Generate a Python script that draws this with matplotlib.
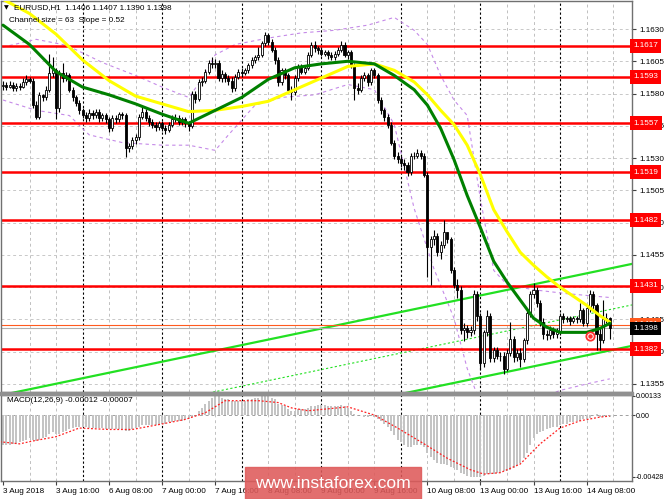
import matplotlib
matplotlib.use("Agg")
import matplotlib.pyplot as plt
from matplotlib.patches import Rectangle
import numpy as np

plt.rcParams['font.family'] = ['Liberation Sans', 'DejaVu Sans']

# EURUSD H1, 3 Aug 2018 00:00 .. 14 Aug 15:00, one row = 8 bars
opens = [1.1586, 1.1587, 1.1585, 1.1587, 1.1584, 1.1586, 1.1585, 1.1589,
         1.1591, 1.1590, 1.1571, 1.1562, 1.1579, 1.1577, 1.1583, 1.1596,
         1.1598, 1.1569, 1.1596, 1.1592, 1.1594, 1.1583, 1.1577, 1.1573,
         1.1567, 1.1563, 1.1561, 1.1565, 1.1563, 1.1566, 1.1561, 1.1563,
         1.1560, 1.1553, 1.1561, 1.1560, 1.1564, 1.1563, 1.1538, 1.1539,
         1.1544, 1.1546, 1.1562, 1.1566, 1.1561, 1.1558, 1.1556, 1.1554,
         1.1557, 1.1553, 1.1552, 1.1556, 1.1560, 1.1561, 1.1558, 1.1560,
         1.1557, 1.1555, 1.1580, 1.1576, 1.1589, 1.1590, 1.1597, 1.1604,
         1.1603, 1.1604, 1.1592, 1.1595, 1.1592, 1.1590, 1.1584, 1.1593,
         1.1597, 1.1596, 1.1598, 1.1602, 1.1606, 1.1608, 1.1610, 1.1619,
         1.1625, 1.1620, 1.1614, 1.1606, 1.1589, 1.1598, 1.1594, 1.1583,
         1.1581, 1.1592, 1.1601, 1.1597, 1.1600, 1.1610, 1.1618, 1.1615,
         1.1614, 1.1611, 1.1612, 1.1610, 1.1608, 1.1611, 1.1614, 1.1618,
         1.1610, 1.1612, 1.1602, 1.1584, 1.1583, 1.1592, 1.1594, 1.1589,
         1.1598, 1.1594, 1.1575, 1.1567, 1.1562, 1.1556, 1.1542, 1.1532,
         1.1529, 1.1526, 1.1525, 1.1519, 1.1532, 1.1532, 1.1534, 1.1532,
         1.1517, 1.1461, 1.1467, 1.1470, 1.1457, 1.1463, 1.1473, 1.1467,
         1.1443, 1.1432, 1.1428, 1.1397, 1.1398, 1.1395, 1.1397, 1.1425,
         1.1408, 1.1371, 1.1395, 1.1408, 1.1375, 1.1381, 1.1377, 1.1377,
         1.1367, 1.1379, 1.1390, 1.1376, 1.1379, 1.1374, 1.1389, 1.1410,
         1.1425, 1.1428, 1.1418, 1.1403, 1.1394, 1.1393, 1.1397, 1.1394,
         1.1395, 1.1408, 1.1405, 1.1406, 1.1404, 1.1406, 1.1405, 1.1412,
         1.1402, 1.1414, 1.1425, 1.1416, 1.1394, 1.1389, 1.1405, 1.1406]
highs = [1.1590, 1.1589, 1.1590, 1.1589, 1.1588, 1.1588, 1.1592, 1.1594,
         1.1593, 1.1592, 1.1574, 1.1581, 1.1580, 1.1586, 1.1611, 1.1608,
         1.1600, 1.1598, 1.1604, 1.1597, 1.1596, 1.1585, 1.1579, 1.1575,
         1.1569, 1.1566, 1.1568, 1.1567, 1.1568, 1.1568, 1.1565, 1.1565,
         1.1562, 1.1563, 1.1563, 1.1566, 1.1566, 1.1565, 1.1542, 1.1546,
         1.1549, 1.1564, 1.1570, 1.1568, 1.1563, 1.1560, 1.1558, 1.1559,
         1.1559, 1.1556, 1.1558, 1.1563, 1.1564, 1.1563, 1.1562, 1.1562,
         1.1559, 1.1582, 1.1582, 1.1591, 1.1593, 1.1599, 1.1606, 1.1608,
         1.1607, 1.1606, 1.1598, 1.1597, 1.1594, 1.1593, 1.1595, 1.1599,
         1.1600, 1.1600, 1.1604, 1.1608, 1.1610, 1.1616, 1.1621, 1.1628,
         1.1627, 1.1622, 1.1616, 1.1608, 1.1600, 1.1600, 1.1596, 1.1586,
         1.1594, 1.1603, 1.1603, 1.1602, 1.1612, 1.1620, 1.1621, 1.1617,
         1.1616, 1.1614, 1.1614, 1.1612, 1.1613, 1.1616, 1.1621, 1.1620,
         1.1614, 1.1614, 1.1604, 1.1588, 1.1594, 1.1597, 1.1596, 1.1600,
         1.1600, 1.1596, 1.1577, 1.1569, 1.1564, 1.1558, 1.1544, 1.1535,
         1.1532, 1.1529, 1.1527, 1.1534, 1.1535, 1.1537, 1.1536, 1.1534,
         1.1519, 1.1470, 1.1474, 1.1472, 1.1466, 1.1482, 1.1472, 1.1469,
         1.1446, 1.1436, 1.1431, 1.1402, 1.1401, 1.1400, 1.1428, 1.1427,
         1.1410, 1.1397, 1.1412, 1.1410, 1.1384, 1.1384, 1.1380, 1.1380,
         1.1382, 1.1403, 1.1392, 1.1382, 1.1383, 1.1391, 1.1412, 1.1427,
         1.1433, 1.1430, 1.1420, 1.1406, 1.1397, 1.1400, 1.1399, 1.1398,
         1.1410, 1.1410, 1.1408, 1.1408, 1.1408, 1.1408, 1.1418, 1.1414,
         1.1416, 1.1428, 1.1427, 1.1418, 1.1398, 1.1420, 1.1410, 1.1407]
lows = [1.1583, 1.1583, 1.1584, 1.1582, 1.1582, 1.1583, 1.1584, 1.1587,
        1.1588, 1.1569, 1.1560, 1.1560, 1.1574, 1.1575, 1.1581, 1.1593,
        1.1560, 1.1566, 1.1589, 1.1590, 1.1581, 1.1574, 1.1570, 1.1564,
        1.1561, 1.1558, 1.1559, 1.1560, 1.1561, 1.1558, 1.1559, 1.1557,
        1.1550, 1.1551, 1.1557, 1.1558, 1.1560, 1.1531, 1.1535, 1.1537,
        1.1541, 1.1544, 1.1560, 1.1559, 1.1555, 1.1553, 1.1551, 1.1552,
        1.1551, 1.1549, 1.1550, 1.1554, 1.1558, 1.1556, 1.1556, 1.1554,
        1.1551, 1.1553, 1.1573, 1.1574, 1.1586, 1.1588, 1.1595, 1.1600,
        1.1600, 1.1590, 1.1589, 1.1589, 1.1587, 1.1581, 1.1582, 1.1591,
        1.1593, 1.1594, 1.1596, 1.1600, 1.1604, 1.1606, 1.1608, 1.1617,
        1.1618, 1.1612, 1.1603, 1.1586, 1.1587, 1.1591, 1.1581, 1.1575,
        1.1579, 1.1590, 1.1595, 1.1595, 1.1598, 1.1608, 1.1612, 1.1611,
        1.1609, 1.1609, 1.1607, 1.1606, 1.1606, 1.1609, 1.1612, 1.1608,
        1.1607, 1.1600, 1.1575, 1.1580, 1.1581, 1.1590, 1.1586, 1.1587,
        1.1592, 1.1573, 1.1564, 1.1559, 1.1553, 1.1540, 1.1529, 1.1526,
        1.1523, 1.1521, 1.1516, 1.1517, 1.1529, 1.1530, 1.1529, 1.1515,
        1.1438, 1.1432, 1.1463, 1.1454, 1.1452, 1.1460, 1.1464, 1.1441,
        1.1429, 1.1422, 1.1394, 1.1388, 1.1391, 1.1392, 1.1394, 1.1404,
        1.1366, 1.1368, 1.1392, 1.1372, 1.1372, 1.1374, 1.1373, 1.1363,
        1.1365, 1.1377, 1.1372, 1.1373, 1.1368, 1.1372, 1.1386, 1.1407,
        1.1422, 1.1415, 1.1400, 1.1390, 1.1389, 1.1390, 1.1391, 1.1391,
        1.1393, 1.1402, 1.1403, 1.1401, 1.1402, 1.1402, 1.1403, 1.1400,
        1.1400, 1.1411, 1.1413, 1.1381, 1.1381, 1.1387, 1.1402, 1.1390]
closes = [1.1587, 1.1585, 1.1587, 1.1584, 1.1586, 1.1585, 1.1589, 1.1591,
          1.1590, 1.1571, 1.1562, 1.1579, 1.1577, 1.1583, 1.1596, 1.1598,
          1.1569, 1.1596, 1.1592, 1.1594, 1.1583, 1.1577, 1.1573, 1.1567,
          1.1563, 1.1561, 1.1565, 1.1563, 1.1566, 1.1561, 1.1563, 1.1560,
          1.1553, 1.1561, 1.1560, 1.1564, 1.1563, 1.1538, 1.1539, 1.1544,
          1.1546, 1.1562, 1.1566, 1.1561, 1.1558, 1.1556, 1.1554, 1.1557,
          1.1553, 1.1552, 1.1556, 1.1560, 1.1561, 1.1558, 1.1560, 1.1557,
          1.1555, 1.1580, 1.1576, 1.1589, 1.1590, 1.1597, 1.1604, 1.1603,
          1.1604, 1.1592, 1.1595, 1.1592, 1.1590, 1.1584, 1.1593, 1.1597,
          1.1596, 1.1598, 1.1602, 1.1606, 1.1608, 1.1610, 1.1619, 1.1625,
          1.1620, 1.1614, 1.1606, 1.1589, 1.1598, 1.1594, 1.1583, 1.1581,
          1.1592, 1.1601, 1.1597, 1.1600, 1.1610, 1.1618, 1.1615, 1.1614,
          1.1611, 1.1612, 1.1610, 1.1608, 1.1611, 1.1614, 1.1618, 1.1610,
          1.1612, 1.1602, 1.1584, 1.1583, 1.1592, 1.1594, 1.1589, 1.1598,
          1.1594, 1.1575, 1.1567, 1.1562, 1.1556, 1.1542, 1.1532, 1.1529,
          1.1526, 1.1525, 1.1519, 1.1532, 1.1532, 1.1534, 1.1532, 1.1517,
          1.1461, 1.1467, 1.1470, 1.1457, 1.1463, 1.1473, 1.1467, 1.1443,
          1.1432, 1.1428, 1.1397, 1.1398, 1.1395, 1.1397, 1.1425, 1.1408,
          1.1371, 1.1395, 1.1408, 1.1375, 1.1381, 1.1377, 1.1377, 1.1367,
          1.1379, 1.1390, 1.1376, 1.1379, 1.1374, 1.1389, 1.1410, 1.1425,
          1.1428, 1.1418, 1.1403, 1.1394, 1.1393, 1.1397, 1.1394, 1.1395,
          1.1408, 1.1405, 1.1406, 1.1404, 1.1406, 1.1405, 1.1412, 1.1402,
          1.1414, 1.1425, 1.1416, 1.1394, 1.1389, 1.1405, 1.1406, 1.1398]

# moving averages every few bars
ma_bars = [0, 8, 16, 24, 32, 40, 48, 56, 64, 72, 80, 88, 96, 104, 112, 118,
           124, 128, 132, 136, 140, 144, 148, 152, 156, 160, 164, 168, 172, 176, 180, 183]
ma_yellow = [1.1653, 1.1642, 1.1626, 1.1606, 1.1590, 1.1578, 1.1572, 1.1566,
             1.1567, 1.1570, 1.1574, 1.1583, 1.1592, 1.1601, 1.1603, 1.1598,
             1.1589, 1.1579, 1.1567, 1.1556, 1.1540, 1.1517, 1.1490, 1.1473,
             1.1457, 1.1447, 1.1438, 1.1430, 1.1423, 1.1416, 1.1408, 1.1403]
ma_green = [1.1633, 1.1618, 1.1597, 1.1585, 1.1579, 1.1572, 1.1564, 1.1557,
            1.1567, 1.1577, 1.1591, 1.1600, 1.1603, 1.1605, 1.1603, 1.1594,
            1.1583, 1.1571, 1.1553, 1.1529, 1.1501, 1.1476, 1.1450, 1.1434,
            1.1420, 1.1406, 1.1399, 1.1395, 1.1395, 1.1395, 1.1398, 1.1402]

# violet envelope bands
bb_up_bars = [0, 10, 18, 22, 30, 40, 48, 56, 60, 64, 70, 80, 90, 100, 110, 118,
              124, 128, 132, 136, 140, 144, 148, 152, 160, 170, 183]
bb_upper = [1.1616, 1.1622, 1.1618, 1.1614, 1.1604, 1.1594, 1.1585, 1.1577,
            1.1591, 1.1610, 1.1618, 1.1623, 1.1627, 1.1629, 1.1633, 1.1639,
            1.1629, 1.1618, 1.1594, 1.1575, 1.1563, 1.1498, 1.1443, 1.1432,
            1.1428, 1.1425, 1.1422]
bb_lo_bars = [0, 10, 20, 26, 36, 48, 56, 64, 68, 76, 84, 94, 104, 112, 118, 124,
              130, 136, 140, 144, 148, 154, 160, 168, 176, 183]
bb_lower = [1.1575, 1.1567, 1.1563, 1.1548, 1.1542, 1.1540, 1.1540, 1.1536,
            1.1548, 1.1571, 1.1577, 1.1579, 1.1587, 1.1583, 1.1556, 1.1491,
            1.1444, 1.1406, 1.1367, 1.1340, 1.1324, 1.1332, 1.1342, 1.1350,
            1.1355, 1.1359]

# regression channel (end points)
chan_bars = [-1, 190]
chan_upper = [1.13461, 1.14482]
chan_mid = [1.13143, 1.14164]
chan_lower = [1.12826, 1.13847]

levels = [1.1617, 1.1593, 1.1557, 1.1519, 1.1482, 1.1431, 1.1382]
price_ticks = [1.1355, 1.1380, 1.1405, 1.1430, 1.1455, 1.1480, 1.1505,
               1.1530, 1.1555, 1.1580, 1.1605, 1.1630]
bid = 1.1398
line_1401 = 1.1401
alert_bar, alert_price = 177, 1.1392

# MACD(12,26,9) histogram, one row = 8 bars
macd = [-0.0021, -0.0021, -0.0021, -0.0020, -0.0020, -0.0019, -0.0018, -0.0017,
        -0.0016, -0.0017, -0.0018, -0.0017, -0.0016, -0.0015, -0.0013, -0.0012,
        -0.0013, -0.0013, -0.0012, -0.0011, -0.0010, -0.0009, -0.0008, -0.0008,
        -0.0008, -0.0008, -0.0009, -0.0009, -0.0009, -0.0009, -0.0009, -0.0010,
        -0.0010, -0.0010, -0.0010, -0.0010, -0.0010, -0.0011, -0.0011, -0.0010,
        -0.0009, -0.0008, -0.0007, -0.0007, -0.0007, -0.0007, -0.0007, -0.0007,
        -0.0006, -0.0006, -0.0005, -0.0005, -0.0004, -0.0004, -0.0004, -0.0003,
        -0.0003, -0.0001, 0.0000, 0.0003, 0.0005, 0.0008, 0.0010, 0.0012,
        0.0013, 0.0013, 0.0012, 0.0011, 0.0011, 0.0010, 0.0010, 0.0010,
        0.0010, 0.0010, 0.0011, 0.0011, 0.0012, 0.0012, 0.0013, 0.0013,
        0.0013, 0.0012, 0.0011, 0.0008, 0.0007, 0.0006, 0.0004, 0.0003,
        0.0003, 0.0004, 0.0004, 0.0004, 0.0005, 0.0006, 0.0006, 0.0007,
        0.0007, 0.0007, 0.0006, 0.0006, 0.0006, 0.0006, 0.0007, 0.0006,
        0.0005, 0.0003, 0.0001, 0.0000, 0.0000, -0.0001, -0.0001, 0.0000,
        -0.0001, -0.0003, -0.0004, -0.0006, -0.0008, -0.0011, -0.0014, -0.0017,
        -0.0019, -0.0021, -0.0022, -0.0022, -0.0021, -0.0021, -0.0021, -0.0022,
        -0.0026, -0.0029, -0.0031, -0.0033, -0.0034, -0.0034, -0.0035, -0.0036,
        -0.0037, -0.0038, -0.0040, -0.0041, -0.0042, -0.0043, -0.0043, -0.0043,
        -0.0043, -0.0042, -0.0041, -0.0041, -0.0041, -0.0040, -0.0040, -0.0039,
        -0.0039, -0.0038, -0.0037, -0.0035, -0.0033, -0.0030, -0.0026, -0.0021,
        -0.0016, -0.0013, -0.0012, -0.0011, -0.0010, -0.0009, -0.0008, -0.0008,
        -0.0007, -0.0006, -0.0006, -0.0005, -0.0005, -0.0004, -0.0004, -0.0003,
        -0.0003, -0.0002, 0.0000, 0.0001, -0.0001, -0.0001, -0.0001, -0.00012]
sig_bars = [-1, 5, 9, 16, 23, 32, 39, 47, 55, 61, 67, 77, 83, 87, 92, 104, 112,
            119, 127, 134, 141, 145, 150, 156, 162, 168, 174, 180, 183]
signal = [-0.00185, -0.0020, -0.0018, -0.0015, -0.0009, -0.0010, -0.0010, -0.00066,
          -0.0003, 0.00016, 0.0010, 0.0010, 0.00087, 0.0005, 0.0003, 0.00057, 0.0000,
          -0.0009, -0.0020, -0.0030, -0.0038, -0.0041, -0.0040, -0.0034, -0.0020,
          -0.0009, -0.0004, -0.00014, -0.00007]
macd_ticks = [0.00133, 0.0, -0.00428]
macd_tick_labels = ['0.00133', '0.00', '-0.00428']

time_labels = ['3 Aug 2018', '3 Aug 16:00', '6 Aug 08:00', '7 Aug 00:00', '7 Aug 16:00',
               '8 Aug 08:00', '9 Aug 00:00', '9 Aug 16:00', '10 Aug 08:00',
               '13 Aug 00:00', '13 Aug 16:00', '14 Aug 08:00']

FS = 5.9
W, H = 665, 499
fig = plt.figure(figsize=(W / 100, H / 100), dpi=100)
ax = fig.add_axes([1 / W, 1 - 392 / H, 631 / W, 391 / H])
ax2 = fig.add_axes([1 / W, 1 - 481 / H, 631 / W, 86.5 / H], sharex=ax)

x = np.arange(len(closes))
o, h, l, c = map(np.array, (opens, highs, lows, closes))
xlim = (-0.6, 189.7)

# grid: gray every 8 bars, black dotted day separators every 24
for a in (ax, ax2):
    for b in range(8, 190, 8):
        if b % 24 == 0:
            a.axvline(b, color='black', lw=0.8, ls=(0, (2, 2)), zorder=1)
        else:
            a.axvline(b, color='#C0C0C0', lw=0.7, ls=(0, (3, 3)), zorder=0.5)
    for s in a.spines.values():
        s.set_color('#707070')
        s.set_linewidth(1)

for p in price_ticks:
    ax.axhline(p, color='#C8C8C8', lw=0.7, ls=(0, (3, 3)), zorder=0.5)

# channel
ax.plot(chan_bars, chan_upper, color='#22E022', lw=1.6, zorder=2)
ax.plot(chan_bars, chan_lower, color='#22E022', lw=1.6, zorder=2)
ax.plot(chan_bars, chan_mid, color='#22E022', lw=0.8, ls=(0, (2, 2)), zorder=2)

# envelopes
ax.plot(bb_up_bars, bb_upper, color='#C58AE8', lw=0.8, ls=(0, (3, 3)), zorder=2)
ax.plot(bb_lo_bars, bb_lower, color='#C58AE8', lw=0.8, ls=(0, (3, 3)), zorder=2)

# levels
for lv in levels:
    ax.axhline(lv, color='#FF0000', lw=1.8, zorder=2.2)
ax.axhline(line_1401, color='#FF5A1E', lw=0.8, zorder=2.2)
ax.axhline(bid, color='#B0B0B0', lw=0.8, zorder=2.1)

# candles
up = c >= o
ax.vlines(x, l, h, color='black', lw=0.8, zorder=3)
ax.bar(x[up], c[up] - o[up], bottom=o[up], width=0.62, color='white',
       edgecolor='black', lw=0.6, zorder=3.1)
ax.bar(x[~up], o[~up] - c[~up], bottom=c[~up], width=0.62, color='black',
       edgecolor='black', lw=0.6, zorder=3.1)

# moving averages
ax.plot(ma_bars, ma_yellow, color='#FFFF00', lw=2.2, zorder=4, solid_capstyle='round')
ax.plot(ma_bars, ma_green, color='#008000', lw=2.2, zorder=4.1, solid_capstyle='round')

# alert marker
ax.plot([alert_bar], [alert_price], 'o', ms=6, mfc='white', mec='#FF3030', mew=1.3, zorder=5)
ax.plot([alert_bar], [alert_price], 'o', ms=2.2, color='#FF3030', zorder=5.1)

ax.set_xlim(*xlim)
ax.set_ylim(1.13488, 1.16517)
ax.yaxis.tick_right()
ax.set_yticks(price_ticks)
ax.set_yticklabels([f'{p:.4f}' for p in price_ticks])
ax.tick_params(axis='y', length=3, width=0.8, pad=2, labelsize=FS, color='#404040')
ax.tick_params(axis='x', length=0, labelbottom=False)


def tag(a, y, txt, fc, tc='white'):
    a.text(1.0015, y, txt, transform=a.get_yaxis_transform(), ha='left', va='center',
           fontsize=FS, color=tc, clip_on=False, zorder=10,
           bbox=dict(boxstyle='square,pad=0.42', fc=fc, ec='none'))


for lv in levels:
    tag(ax, lv, f'{lv:.4f}', '#FF0000')
tag(ax, line_1401, f'{line_1401:.4f}', '#FF5A1E')
tag(ax, bid, f'{bid:.4f}', 'black')

ax.text(3 / 631, 1 - 7 / 391, '\u25bc', transform=ax.transAxes, fontsize=4.5,
        va='center', ha='left', family=['DejaVu Sans'], zorder=10)
ax.text(13 / 631, 1 - 7 / 391, 'EURUSD,H1  1.1406 1.1407 1.1390 1.1398',
        transform=ax.transAxes, fontsize=FS, va='center', ha='left', zorder=10)
ax.text(8 / 631, 1 - 19 / 391, 'Channel size = 63  Slope = 0.52',
        transform=ax.transAxes, fontsize=FS, va='center', ha='left', zorder=10)

# MACD panel
ax2.bar(x, macd, width=0.6, color='#C4C4C4', zorder=2)
ax2.plot(sig_bars, signal, color='#FF2020', lw=0.9, ls=(0, (1.5, 1.5)), zorder=3)
ax2.axhline(0, color='#A0A0A0', lw=0.7, ls=(0, (3, 3)), zorder=1)
ax2.set_ylim(-0.00458, 0.00143)
ax2.yaxis.tick_right()
ax2.set_yticks(macd_ticks)
ax2.set_yticklabels(macd_tick_labels)
ax2.tick_params(axis='y', length=2, width=0.8, pad=0.8, labelsize=5.1, color='#404040')
ax2.text(6 / 631, 1 - 6 / 86.5, 'MACD(12,26,9) -0.00012 -0.00007', transform=ax2.transAxes,
         fontsize=FS, va='center', ha='left', zorder=10)

tick_pos = np.arange(len(time_labels)) * 16
ax2.set_xticks(tick_pos)
ax2.set_xticklabels(time_labels)
ax2.tick_params(axis='x', length=3, width=0.8, pad=2, labelsize=FS, color='#404040')
for t in ax2.get_xticklabels():
    t.set_ha('left')

# separator between panels
fig.patches.append(Rectangle((0, 1 - 395 / H), 633 / W, 3 / H, transform=fig.transFigure,
                             color='#909090', zorder=5))

# watermark
fig.patches.append(Rectangle((245 / W, 0), 176 / W, 32 / H, transform=fig.transFigure,
                             color='#DE5A5A', alpha=0.88, zorder=20))
fig.text(333 / W, 15 / H, 'www.instaforex.com', ha='center', va='center', color='white',
         fontsize=12.6, zorder=21)

fig.savefig('out.png', dpi=100)
